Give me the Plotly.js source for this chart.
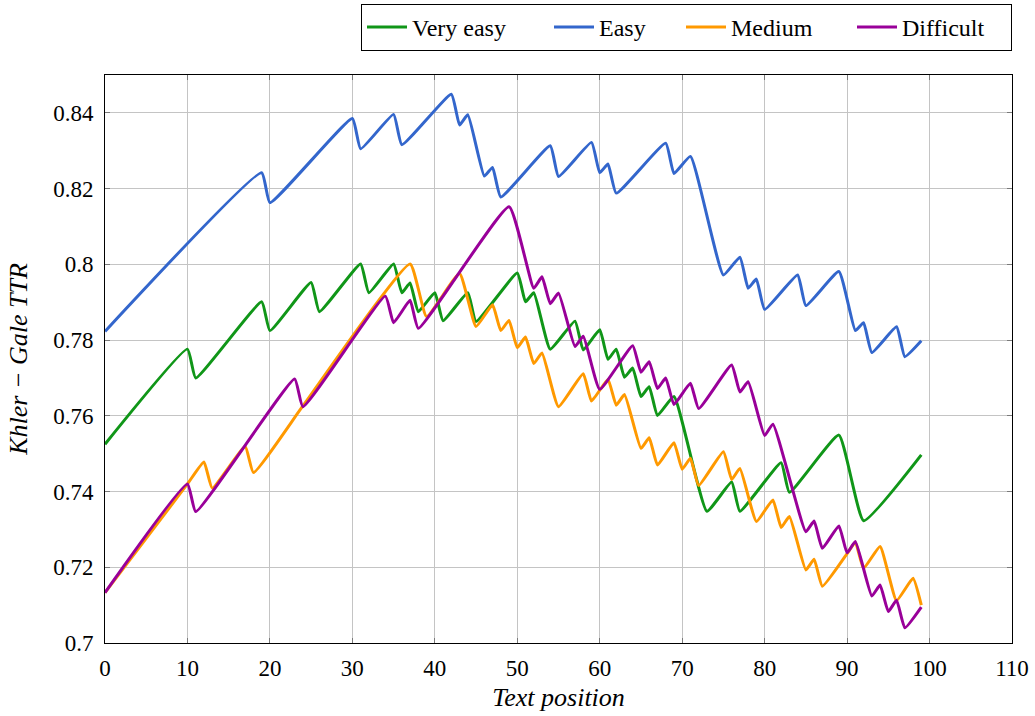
<!DOCTYPE html>
<html>
<head>
<meta charset="utf-8">
<script src="https://cdn.plot.ly/plotly-3.0.1.min.js"></script>
<style>
  html, body { margin: 0; padding: 0; background: #ffffff; }
  #chart { width: 1035px; height: 716px; position: absolute; left: 0; top: 0; }
</style>
</head>
<body>
<div id="chart"></div>
<script>
// Turning points (local peaks and troughs) of each TTR curve along the text
const veryEasyX = [0, 10, 11, 19, 20, 25, 26, 31, 32, 35, 36, 37, 38, 40, 41, 44, 45, 50, 51, 52, 54, 57, 58, 60, 61, 62, 63, 64, 65, 66, 67, 69, 73, 76, 77, 82, 83, 89, 92, 99];
const veryEasyY = [0.7525, 0.7776, 0.7700, 0.7901, 0.7825, 0.7952, 0.7875, 0.8001, 0.7925, 0.8001, 0.7925, 0.7951, 0.7875, 0.7925, 0.7851, 0.7925, 0.7849, 0.7977, 0.7901, 0.7925, 0.7776, 0.7850, 0.7774, 0.7827, 0.7749, 0.7776, 0.7702, 0.7726, 0.7651, 0.7677, 0.7601, 0.7651, 0.7348, 0.7425, 0.7348, 0.7476, 0.7398, 0.7549, 0.7323, 0.7497];

const easyX = [0, 19, 20, 30, 31, 35, 36, 42, 43, 44, 46, 47, 48, 54, 55, 59, 60, 61, 62, 68, 69, 71, 75, 77, 78, 79, 80, 84, 85, 89, 91, 92, 93, 96, 97, 99];
const easyY = [0.7823, 0.8242, 0.8163, 0.8385, 0.8305, 0.8396, 0.8316, 0.8449, 0.8368, 0.8395, 0.8233, 0.8256, 0.8178, 0.8313, 0.8232, 0.8322, 0.8242, 0.8265, 0.8188, 0.8320, 0.8240, 0.8285, 0.7972, 0.8019, 0.7937, 0.7961, 0.7881, 0.7972, 0.7891, 0.7981, 0.7825, 0.7846, 0.7767, 0.7835, 0.7756, 0.7798];

const mediumX = [0, 10, 12, 13, 17, 18, 24, 37, 39, 43, 45, 47, 48, 49, 50, 51, 52, 53, 55, 58, 59, 61, 62, 63, 65, 66, 67, 69, 70, 71, 72, 75, 76, 77, 79, 81, 82, 83, 85, 86, 87, 90, 91, 92, 94, 96, 98, 99];
const mediumY = [0.7133, 0.7420, 0.7478, 0.7409, 0.7519, 0.7450, 0.7626, 0.8001, 0.7862, 0.7976, 0.7836, 0.7893, 0.7825, 0.7852, 0.7780, 0.7808, 0.7738, 0.7766, 0.7624, 0.7711, 0.7639, 0.7696, 0.7628, 0.7656, 0.7514, 0.7542, 0.7470, 0.7529, 0.7459, 0.7488, 0.7416, 0.7505, 0.7432, 0.7461, 0.7321, 0.7378, 0.7305, 0.7334, 0.7193, 0.7221, 0.7150, 0.7236, 0.7266, 0.7197, 0.7255, 0.7112, 0.7171, 0.7100];

const difficultX = [0, 10, 11, 23, 24, 34, 35, 37, 38, 49, 52, 53, 54, 55, 57, 58, 60, 64, 65, 66, 67, 68, 69, 71, 72, 76, 77, 78, 80, 81, 85, 86, 87, 89, 90, 91, 93, 94, 95, 96, 97, 99];
const difficultY = [0.7133, 0.7420, 0.7347, 0.7697, 0.7624, 0.7916, 0.7846, 0.7905, 0.7831, 0.8152, 0.7937, 0.7967, 0.7896, 0.7924, 0.7783, 0.7810, 0.7670, 0.7785, 0.7715, 0.7743, 0.7672, 0.7700, 0.7630, 0.7686, 0.7619, 0.7734, 0.7663, 0.7690, 0.7548, 0.7578, 0.7294, 0.7322, 0.7250, 0.7309, 0.7238, 0.7268, 0.7124, 0.7153, 0.7083, 0.7113, 0.7040, 0.7095];

const seriesNames = ['Very easy', 'Easy', 'Medium', 'Difficult'];
const seriesColors = ['#109618', '#3366cc', '#ff9900', '#990099'];
// width reserved for each legend entry's label
const legendEntryWidths = [132, 77, 116, 104];

const xTickVals = [0, 10, 20, 30, 40, 50, 60, 70, 80, 90, 100, 110];
const yTickVals = [0.70, 0.72, 0.74, 0.76, 0.78, 0.80, 0.82, 0.84];
const yTickText = ['0.7', '0.72', '0.74', '0.76', '0.78', '0.8', '0.82', '0.84'];

const xs = [veryEasyX, easyX, mediumX, difficultX];
const ys = [veryEasyY, easyY, mediumY, difficultY];

const traces = seriesNames.map((name, i) => ({
  type: 'scatter',
  mode: 'lines',
  name: name,
  x: xs[i],
  y: ys[i],
  legendwidth: legendEntryWidths[i],
  line: { color: seriesColors[i], width: 3, shape: 'spline', smoothing: 0.4 }
}));

const serif = 'Liberation Serif';

function axisBase() {
  return {
    showgrid: true,
    gridcolor: '#c4c4c4',
    gridwidth: 1,
    zeroline: false,
    showline: true,
    linecolor: '#000000',
    linewidth: 1,
    mirror: 'ticks',
    ticks: 'inside',
    ticklen: 5,
    tickwidth: 1,
    tickcolor: '#7a7a7a',
    tickfont: { family: serif, size: 23, color: '#000000' }
  };
}

function titleFont() {
  return { family: serif, size: 26, style: 'italic', color: '#000000' };
}

const layout = {
  width: 1035,
  height: 716,
  margin: { l: 105, r: 23, t: 75, b: 73, autoexpand: false },
  paper_bgcolor: '#ffffff',
  plot_bgcolor: '#ffffff',
  font: { family: serif, size: 23, color: '#000000' },
  showlegend: true,
  legend: {
    orientation: 'h',
    x: 1, xanchor: 'right',
    y: 1.125, yanchor: 'top',
    bordercolor: '#000000',
    borderwidth: 1,
    bgcolor: '#ffffff',
    font: { family: serif, size: 24, color: '#000000' },
    itemwidth: 40,
    traceorder: 'normal'
  },
  xaxis: Object.assign(axisBase(), {
    range: [0, 110],
    tickvals: xTickVals,
    ticklabelstandoff: 4,
    title: { text: 'Text position', font: titleFont(), standoff: 8 }
  }),
  yaxis: Object.assign(axisBase(), {
    range: [0.70, 0.85],
    tickvals: yTickVals,
    ticktext: yTickText,
    ticklabelstandoff: 6,
    title: { text: 'Khler \u2212 Gale TTR', font: titleFont(), standoff: 18 }
  })
};

Plotly.newPlot('chart', traces, layout, { staticPlot: true, displayModeBar: false });
</script>
</body>
</html>
